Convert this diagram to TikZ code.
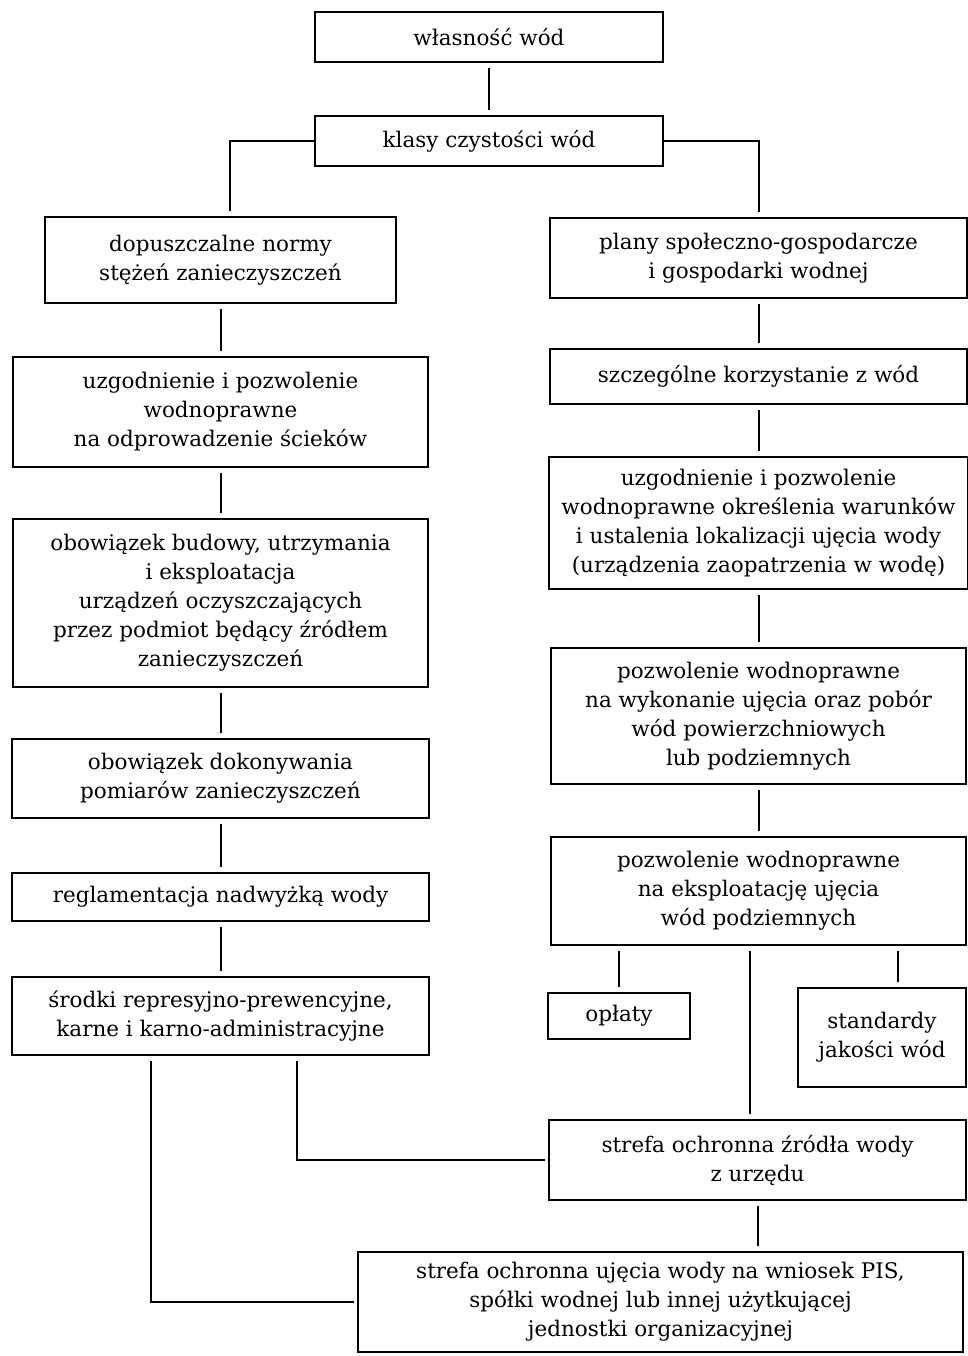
\documentclass[tikz,border=0pt]{standalone}
\usepackage{fontspec}
\setmainfont{DejaVu Serif}
\usetikzlibrary{positioning}

\begin{document}
\begin{tikzpicture}[
  x=1pt, y=-1pt,
  node distance = 52pt,
  box/.style = {draw, line width=2pt, inner sep=4pt, align=center, font=\fontsize{21.5}{29}\selectfont},
  conn/.style = {line width=2pt, shorten <=5pt, shorten >=5pt}
]
\useasboundingbox (0,0) rectangle (968,1356);

\node[box, minimum width=348pt, minimum height=50pt] (wlasnosc) at (489,37) {własność wód};
\node[box, minimum width=348pt, minimum height=50pt, below=of wlasnosc] (klasy) {klasy czystości wód};

% lewa kolumna
\node[box, minimum width=351pt, minimum height=86pt] (normy) at (220.5,260) {dopuszczalne normy\\stężeń zanieczyszczeń};
\node[box, minimum width=415pt, minimum height=110pt, below=of normy] (sciekow) {uzgodnienie i pozwolenie\\wodnoprawne\\na odprowadzenie ścieków};
\node[box, minimum width=415pt, minimum height=168pt, below=50pt of sciekow] (budowy) {obowiązek budowy, utrzymania\\i eksploatacja\\urządzeń oczyszczających\\przez podmiot będący źródłem\\zanieczyszczeń};
\node[box, minimum width=417pt, minimum height=79pt, below=50pt of budowy] (pomiary) {obowiązek dokonywania\\pomiarów zanieczyszczeń};
\node[box, minimum width=417pt, minimum height=48pt, below=53pt of pomiary] (reglam) {reglamentacja nadwyżką wody};
\node[box, minimum width=417pt, minimum height=78pt, below=54pt of reglam] (srodki) {środki represyjno-prewencyjne,\\karne i karno-administracyjne};

% prawa kolumna
\node[box, minimum width=417pt, minimum height=80pt] (plany) at (758.5,258) {plany społeczno-gospodarcze\\i gospodarki wodnej};
\node[box, minimum width=417pt, minimum height=55pt, below=49pt of plany] (szczeg) {szczególne korzystanie z wód};
\node[box, minimum width=419pt, minimum height=132pt, below=51pt of szczeg] (warunki) {uzgodnienie i pozwolenie\\wodnoprawne określenia warunków\\i ustalenia lokalizacji ujęcia wody\\(urządzenia zaopatrzenia w wodę)};
\node[box, minimum width=415pt, minimum height=136pt, below=57pt of warunki] (wykonanie) {pozwolenie wodnoprawne\\na wykonanie ujęcia oraz pobór\\wód powierzchniowych\\lub podziemnych};
\node[box, minimum width=415pt, minimum height=108pt, below=51pt of wykonanie] (eksp) {pozwolenie wodnoprawne\\na eksploatację ujęcia\\wód podziemnych};

\node[box, minimum width=142pt, minimum height=46pt] (oplaty) at (619,1016) {opłaty};
\node[box, minimum width=168pt, minimum height=99pt] (standardy) at (882,1037.5) {standardy\\jakości wód};
\node[box, minimum width=417pt, minimum height=80pt] (zrodlo) at (757.5,1160) {strefa ochronna źródła wody\\z urzędu};
\node[box, minimum width=605pt, minimum height=100pt] (ujecie) at (660.5,1302) {strefa ochronna ujęcia wody na wniosek PIS,\\spółki wodnej lub innej użytkującej\\jednostki organizacyjnej};

\draw[conn] (wlasnosc) -- (klasy);
\draw[conn, shorten <=0pt] (klasy.west) -| ([xshift=9pt]normy.north);
\draw[conn, shorten <=0pt] (klasy.east) -| (plany.north);

\draw[conn] (normy) -- (normy |- sciekow.north);
\draw[conn] (sciekow) -- (budowy);
\draw[conn] (budowy) -- (pomiary);
\draw[conn] (pomiary) -- (reglam);
\draw[conn] (reglam) -- (srodki);

\draw[conn] (plany) -- (szczeg);
\draw[conn] (szczeg) -- (warunki);
\draw[conn] (warunki) -- (wykonanie);
\draw[conn] (wykonanie) -- (eksp);

\draw[conn] (eksp.south -| oplaty.north) -- (oplaty.north);
\draw[conn] ([xshift=16pt]standardy.north |- eksp.south) -- ([xshift=16pt]standardy.north);
\draw[conn] ([xshift=-8pt]zrodlo.north |- eksp.south) -- ([xshift=-8pt]zrodlo.north);
\draw[conn] (zrodlo.south) -- (zrodlo.south |- ujecie.north);

\draw[conn, shorten >=3pt] ([xshift=76pt]srodki.south) |- (zrodlo.west);
\draw[conn, shorten >=3pt] ([xshift=-70pt]srodki.south) |- (ujecie.west);
\end{tikzpicture}
\end{document}
